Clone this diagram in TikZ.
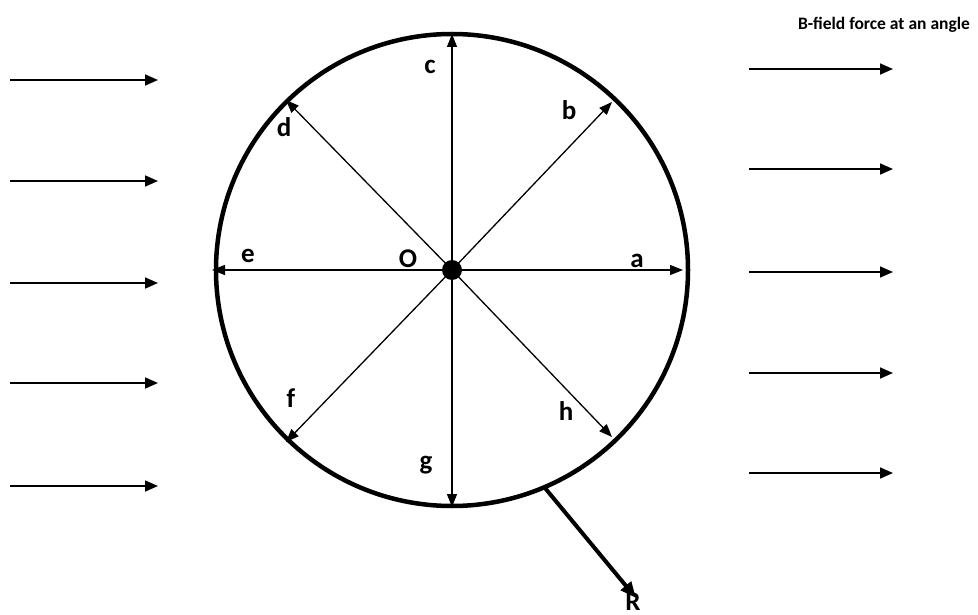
\documentclass[tikz,border=0pt]{standalone}
\usepackage{fontspec}
\setmainfont{Carlito}
\usetikzlibrary{arrows.meta}
\begin{document}
\begin{tikzpicture}[x=1pt,y=-1pt,
  fieldarrow/.style={line width=1.6pt,-{Triangle[length=13pt,width=11pt]}},
  radial/.style={line width=1.3pt,-{Triangle[length=13pt,width=10pt]}},
  lbl/.style={font=\bfseries\fontsize{27}{29}\selectfont,inner sep=0pt}]
\useasboundingbox (0,0) rectangle (978,615);
\coordinate (O) at (452,270);
\draw[line width=4.5pt] (O) circle (236);
\fill (O) circle (10);
\coordinate (pa) at (683,270);
\coordinate (pb) at (612,102);
\coordinate (pc) at (452,34);
\coordinate (pd) at (286,100);
\coordinate (pe) at (212,270);
\coordinate (pf) at (286,442);
\coordinate (pg) at (452,507);
\coordinate (ph) at (612,437);
\foreach \p in {pa,pb,pc,pd,pe,pf,pg,ph} \draw[radial] (O) -- (\p);
\node[lbl] (la) at (637,261) {a};
\node[lbl] (lb) at (569,110) {b};
\node[lbl] (lc) at (430,67) {c};
\node[lbl] (ld) at (284,127) {d};
\node[lbl] (le) at (248,256) {e};
\node[lbl] (lO) at (408,259) {O};
\node[lbl] (lf) at (291,398) {f};
\node[lbl] (lg) at (426,465) {g};
\node[lbl] (lh) at (566,411) {h};
\coordinate (rs) at (545,488);
\coordinate (re) at (636,598);
\draw[line width=4pt,-{Triangle[length=16pt,width=13pt]}] (rs) -- (re);
\node[lbl,anchor=base] (lR) at (633,610) {R};
\node[font=\bfseries\fontsize{17.5}{19}\selectfont,inner sep=0pt] (title) at (884,25) {B-field force at an angle};
\foreach \y [count=\i] in {80,181,283,383,486} {
  \coordinate (l\i s) at (10,\y); \coordinate (l\i e) at (158,\y);
  \draw[fieldarrow] (l\i s) -- (l\i e);}
\foreach \y [count=\i] in {69,169,272,373,473} {
  \coordinate (r\i s) at (749,\y); \coordinate (r\i e) at (893,\y);
  \draw[fieldarrow] (r\i s) -- (r\i e);}
\end{tikzpicture}
\end{document}
